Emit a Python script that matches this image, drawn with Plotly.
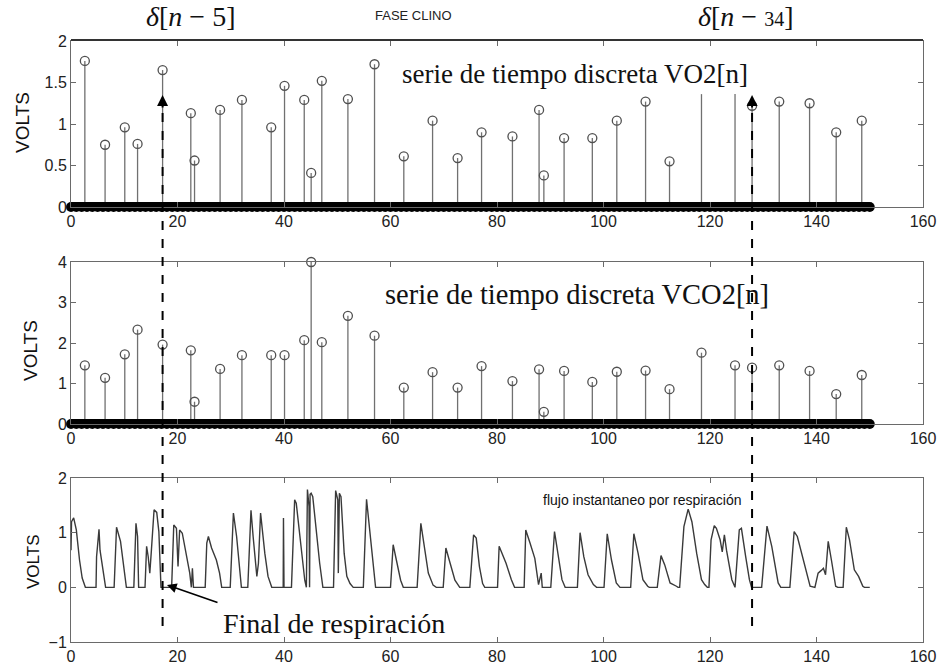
import numpy as np
import plotly.graph_objects as go
from plotly.subplots import make_subplots

# ---------------- data ----------------
N_SAMPLES = 151  # discrete samples n = 0..150 (mostly zero -> thick baseline)

VO2_X = [2.6, 6.4, 10.1, 12.5, 17.2, 22.5, 23.2, 28.0, 32.1, 37.6, 40.1, 43.8, 45.1, 47.1,
         52.0, 57.0, 62.5, 67.9, 72.6, 77.1, 82.9, 87.9, 88.8, 92.6, 97.9, 102.5, 107.9,
         112.4, 127.9, 133.0, 138.7, 143.7, 148.5]
VO2_Y = [1.76, 0.75, 0.96, 0.76, 1.65, 1.13, 0.56, 1.17, 1.29, 0.96, 1.46, 1.29, 0.41, 1.52,
         1.30, 1.72, 0.61, 1.04, 0.59, 0.90, 0.85, 1.17, 0.38, 0.83, 0.83, 1.04, 1.27,
         0.55, 1.22, 1.27, 1.25, 0.90, 1.04]
# stems drawn without a circle in the VO2 panel
VO2_BARE_X = [118.4, 124.7]
VO2_BARE_Y = [1.36, 1.36]

VCO2_X = [2.6, 6.4, 10.1, 12.5, 17.2, 22.5, 23.2, 28.0, 32.1, 37.6, 40.1, 43.8, 45.1, 47.1,
          52.0, 57.0, 62.5, 67.9, 72.6, 77.1, 82.9, 87.9, 88.8, 92.6, 97.9, 102.5, 107.9,
          112.4, 118.4, 124.7, 127.9, 133.0, 138.7, 143.7, 148.5]
VCO2_Y = [1.45, 1.14, 1.72, 2.33, 1.96, 1.82, 0.55, 1.36, 1.70, 1.70, 1.70, 2.07, 4.0, 2.02,
          2.67, 2.18, 0.90, 1.28, 0.90, 1.43, 1.06, 1.35, 0.30, 1.31, 1.04, 1.29, 1.32,
          0.86, 1.76, 1.45, 1.39, 1.45, 1.31, 0.74, 1.21]

FLOW_X = [0.0, 0.1, 0.5, 1.0, 1.6, 2.1, 2.7,
          4.7, 4.8, 5.26, 5.45, 6.1, 6.5,
          8.1, 8.55, 9.3, 10.1, 10.4,
          11.8, 12.2, 12.5, 12.7,
          13.9, 14.2, 14.5, 14.8, 15.1, 15.6, 16.1, 16.5, 16.9,
          18.9, 19.3, 19.8, 20.1, 20.4, 20.9, 21.5, 22.3, 22.6, 22.8, 23.0,
          25.2, 25.5, 25.8, 26.4, 27.3, 27.9, 28.3,
          29.9, 30.5, 31.1, 31.8, 32.0,
          33.2, 33.8, 34.2, 34.9, 35.2, 35.6, 36.4, 37.0, 37.7,
          39.85, 39.9, 40.0,
          41.4, 42.0, 42.3, 43.2, 43.9, 44.2,
          44.4, 44.7, 44.8, 44.9, 45.1, 45.4, 46.0, 46.7, 47.3,
          49.3, 49.7, 50.1, 50.2, 50.4, 50.7, 51.3, 51.8, 52.4, 53.0,
          54.9, 55.5, 56.1, 56.7, 57.2,
          60.0, 60.5, 61.1, 61.9, 62.4,
          65.0, 65.7, 66.3, 67.1, 68.0, 68.6,
          69.9, 70.4, 71.2, 72.1, 73.0,
          74.9, 75.6, 76.1, 76.7, 77.3, 77.7,
          80.1, 80.4, 80.8, 81.7, 82.7, 83.3,
          85.1, 85.4, 86.2, 87.1, 87.8, 88.3, 88.5,
          90.1, 90.8, 91.4, 92.2, 92.8,
          95.1, 95.6, 96.3, 97.1, 98.1, 98.7,
          100.1, 100.7, 101.5, 102.4, 103.1,
          105.1, 105.7, 106.5, 107.4, 108.3, 108.6,
          110.1, 110.8, 111.5, 112.5, 113.7, 114.0,
          114.3, 115.1, 115.9, 116.6, 117.5, 118.4, 119.0, 119.5,
          119.8, 120.2, 120.8, 121.2, 121.9, 122.3, 122.7, 123.1, 124.1, 124.7,
          125.5, 125.9, 126.7, 127.4, 127.8,
          129.7, 130.7, 131.6, 132.8, 133.3,
          135.0, 135.8, 136.4, 137.5, 138.8, 139.7,
          140.3, 140.9, 141.3, 141.7, 142.2, 142.8, 143.6, 144.0,
          145.0, 145.6, 146.2, 147.1, 147.9, 148.7, 149.0, 150.0]
FLOW_Y = [0.68, 1.20, 1.27, 1.05, 0.50, 0.17, 0.0,
          0.0, 0.56, 1.06, 0.68, 0.20, 0.0,
          0.0, 1.10, 0.84, 0.26, 0.0,
          0.0, 1.17, 0.93, 0.0,
          0.0, 0.75, 0.56, 0.26, 0.68, 1.42, 1.37, 1.02, 0.0,
          0.0, 1.14, 1.08, 0.38, 1.05, 0.99, 0.69, 0.26, 0.0, 0.35, 0.0,
          0.0, 0.81, 0.93, 0.72, 0.50, 0.26, 0.0,
          0.0, 1.36, 0.93, 0.13, 0.0,
          0.0, 1.41, 0.93, 0.20, 0.44, 1.36, 0.62, 0.20, 0.0,
          0.0, 1.27, 0.0,
          0.0, 1.60, 1.54, 0.75, 0.13, 0.0,
          1.79, 1.48, 0.0, 1.70, 1.72, 1.66, 1.05, 0.44, 0.0,
          0.0, 1.77, 1.60, 0.26, 1.72, 1.66, 0.62, 0.20, 0.07, 0.0,
          0.0, 1.61, 1.05, 0.38, 0.0,
          0.0, 0.78, 0.50, 0.13, 0.0,
          0.0, 1.17, 0.81, 0.26, 0.04, 0.0,
          0.0, 0.72, 0.44, 0.13, 0.0,
          0.0, 0.96, 0.90, 0.38, 0.07, 0.0,
          0.0, 0.75, 0.65, 0.44, 0.14, 0.0,
          0.0, 1.05, 0.81, 0.53, 0.05, 0.26, 0.0,
          0.0, 1.02, 0.62, 0.14, 0.0,
          0.0, 1.00, 0.56, 0.23, 0.05, 0.0,
          0.0, 0.98, 0.50, 0.08, 0.0,
          0.0, 0.98, 0.62, 0.14, 0.02, 0.0,
          0.0, 0.58, 0.41, 0.08, 0.02, 0.0,
          0.0, 1.11, 1.43, 1.20, 0.62, 0.14, 0.05, 0.0,
          0.0, 0.87, 1.13, 1.08, 0.87, 0.65, 0.96, 0.68, 0.14, 0.0,
          1.05, 1.08, 0.56, 0.14, 0.0,
          0.0, 1.12, 0.75, 0.08, 0.0,
          0.0, 1.02, 0.93, 0.50, 0.02, 0.0,
          0.26, 0.31, 0.35, 0.23, 0.84, 0.50, 0.02, 0.0,
          0.0, 1.10, 0.87, 0.32, 0.20, 0.02, 0.0, 0.0]

DELTA_MARKS = [17.2, 127.9]          # positions of delta[n-5] and delta[n-34]
X_TICKS = [0, 20, 40, 60, 80, 100, 120, 140, 160]

# ---------------- figure ----------------
W, H = 938, 668
ML, MR, MT, MB = 71, 15, 41, 26
PH = H - MT - MB
PW = W - ML - MR


def py(px):   # pixel row -> paper y
    return (H - MB - px) / PH


def pxx(px):  # pixel column -> paper x
    return (px - ML) / PW


fig = make_subplots(rows=3, cols=1)

STEM_C = "#707070"
CIRC_C = "#505050"
SERIF = "Liberation Serif, Times New Roman, serif"
SANS = "Liberation Sans, Arial, sans-serif"


def stems(xs, ys):
    sx, sy = [], []
    for x, y in zip(xs, ys):
        sx += [x, x, None]
        sy += [0, y, None]
    return sx, sy


baseline_n = np.arange(N_SAMPLES)

for row, (xs, ys, bx, by) in enumerate([(VO2_X, VO2_Y, VO2_BARE_X, VO2_BARE_Y),
                                        (VCO2_X, VCO2_Y, [], [])], start=1):
    sx, sy = stems(xs + bx, ys + by)
    fig.add_trace(go.Scatter(x=sx, y=sy, mode="lines", line=dict(color=STEM_C, width=1.3),
                             hoverinfo="skip", showlegend=False), row=row, col=1)
    fig.add_trace(go.Scatter(x=xs, y=ys, mode="markers",
                             marker=dict(symbol="circle-open", size=9, color=CIRC_C, line=dict(width=1.3)),
                             cliponaxis=False, showlegend=False), row=row, col=1)
    fig.add_trace(go.Scatter(x=baseline_n, y=np.zeros(N_SAMPLES), mode="lines+markers",
                             line=dict(color="black", width=10),
                             marker=dict(symbol="circle", size=10, color="black", line=dict(width=0)),
                             cliponaxis=False, showlegend=False), row=row, col=1)

# --- bottom: flow
fig.add_trace(go.Scatter(x=FLOW_X, y=FLOW_Y, mode="lines",
                         line=dict(color="#3a3a3a", width=1.4), showlegend=False), row=3, col=1)

domains = [(py(207), py(41)), (py(424), py(262)), (py(642), py(478))]
yranges = [[0, 2], [0, 4], [-1, 2]]
ydticks = [0.5, 1, 1]

axis_common = dict(showgrid=False, zeroline=False, showline=True, linecolor="#6a6a6a",
                   linewidth=1, mirror="ticks", ticks="inside", ticklen=5, tickcolor="#6a6a6a",
                   automargin=False,
                   tickfont=dict(family=SANS, size=16, color="#222"))

for i in range(3):
    fig.update_xaxes(range=[0, 160], tickvals=X_TICKS, domain=[0, 1], row=i + 1, col=1, **axis_common)
    fig.update_yaxes(range=yranges[i], dtick=ydticks[i], domain=list(domains[i]),
                     row=i + 1, col=1, **axis_common)

# dashed delta lines spanning all panels
for xm in DELTA_MARKS:
    fig.add_shape(type="line", xref="x", yref="paper", x0=xm, x1=xm,
                  y0=py(626), y1=py(100), line=dict(color="black", width=2, dash="dash"))
    fig.add_annotation(x=xm, y=1.35, xref="x", yref="y", text="", showarrow=True,
                       arrowhead=2, arrowsize=1.1, arrowwidth=2, arrowcolor="black",
                       ax=0, ay=14)

# thick top frame line
fig.add_shape(type="line", xref="paper", yref="paper", x0=0, x1=1, y0=py(40), y1=py(40),
              line=dict(color="#333", width=2))

annots = [
    dict(text="FASE CLINO", x=pxx(413), y=py(15), font=dict(family=SANS, size=13, color="#222"),
         xanchor="center"),
    dict(text="<i>δ</i>[<i>n</i> − 5]", x=pxx(190), y=py(16), font=dict(family=SERIF, size=28, color="#111"),
         xanchor="center"),
    dict(text="<i>δ</i>[<i>n</i> − <span style='font-size:20px'>34</span>]", x=pxx(745), y=py(16),
         font=dict(family=SERIF, size=28, color="#111"), xanchor="center"),
    dict(text="serie de tiempo discreta VO2[n]", x=pxx(400), y=py(74),
         font=dict(family=SERIF, size=27, color="#111"), xanchor="left"),
    dict(text="serie de tiempo discreta VCO2[n]", x=pxx(383), y=py(294),
         font=dict(family=SERIF, size=28.5, color="#111"), xanchor="left"),
    dict(text="flujo instantaneo por respiración", x=pxx(541), y=py(500),
         font=dict(family=SANS, size=14, color="#111"), xanchor="left"),
    dict(text="Final de respiración", x=pxx(221), y=py(623),
         font=dict(family=SERIF, size=28, color="#111"), xanchor="left"),
    dict(text="VOLTS", x=pxx(22), y=py(123), textangle=-90, font=dict(family=SANS, size=19, color="#111"),
         xanchor="center"),
    dict(text="VOLTS", x=pxx(30), y=py(351), textangle=-90, font=dict(family=SANS, size=19, color="#111"),
         xanchor="center"),
    dict(text="VOLTS", x=pxx(33), y=py(562), textangle=-90, font=dict(family=SANS, size=17, color="#111"),
         xanchor="center"),
]
for a in annots:
    fig.add_annotation(xref="paper", yref="paper", showarrow=False, yanchor="middle", **a)

# arrow pointing at end of breath
fig.add_annotation(xref="paper", yref="paper", x=pxx(167), y=py(585), text="", showarrow=True,
                   ax=52, ay=18, arrowhead=2, arrowsize=1.2, arrowwidth=1.6,
                   arrowcolor="black")

fig.update_layout(width=W, height=H, margin=dict(l=ML, r=MR, t=MT, b=MB),
                  plot_bgcolor="white", paper_bgcolor="white", showlegend=False)

fig.write_html("out.html")
